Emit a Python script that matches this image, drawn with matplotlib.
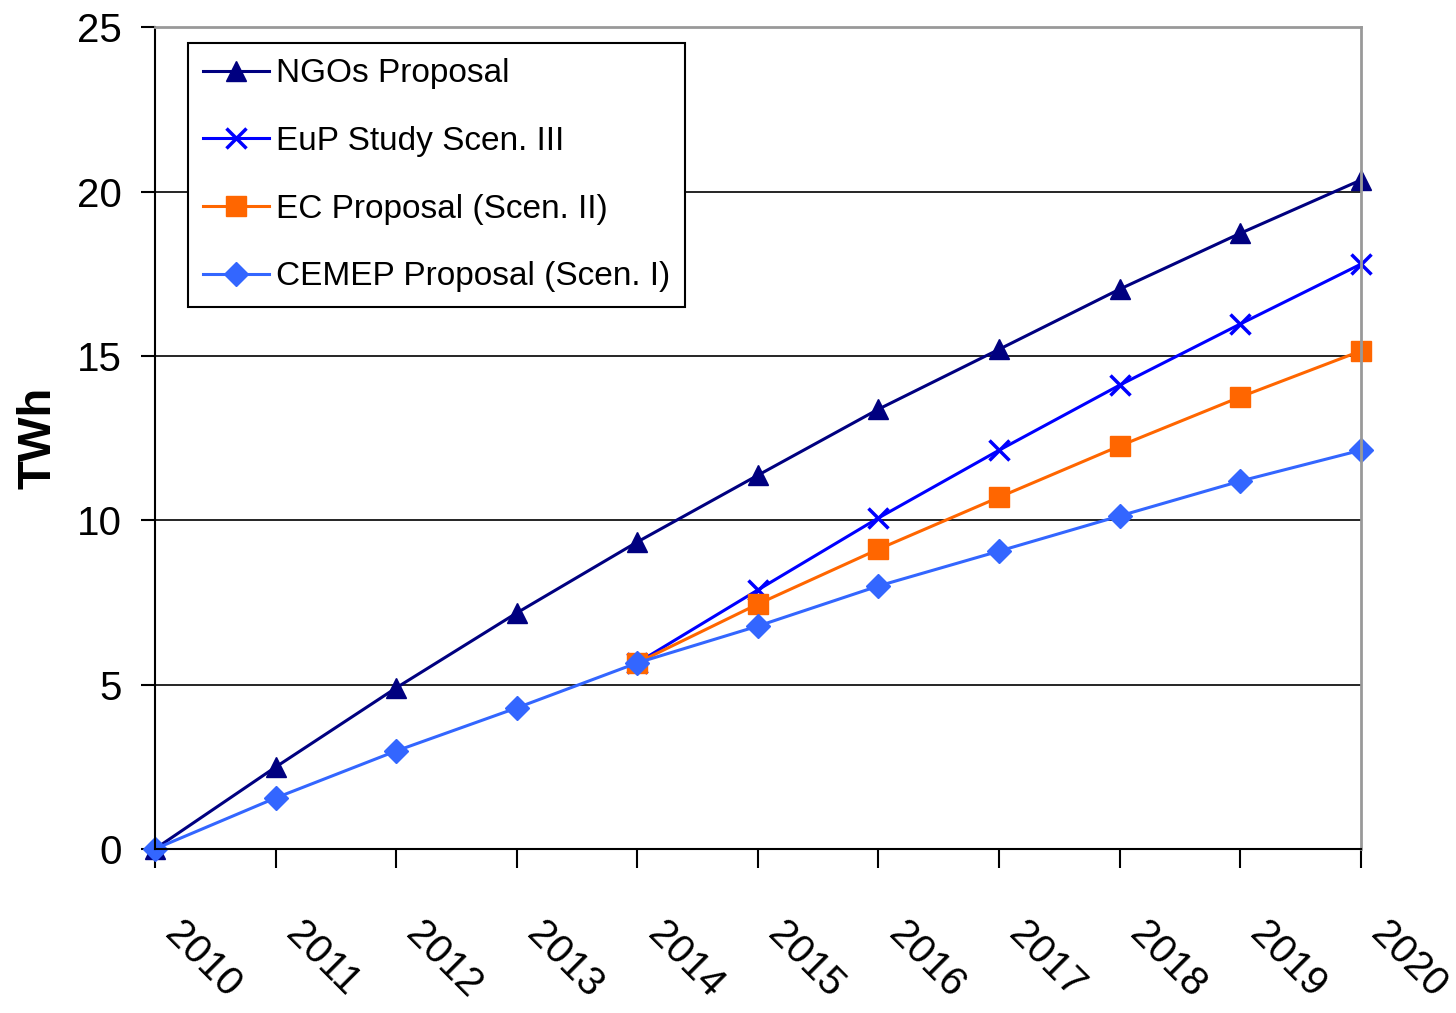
import matplotlib
matplotlib.use("Agg")
import matplotlib.pyplot as plt
import matplotlib.transforms as mtransforms
import numpy as np

nan = np.nan
years = [2010, 2011, 2012, 2013, 2014, 2015, 2016, 2017, 2018, 2019, 2020]
ngos = [0, 2.49, 4.9, 7.18, 9.34, 11.37, 13.38, 15.2, 17.03, 18.73, 20.35]
eup = [nan, nan, nan, nan, 5.66, 7.88, 10.07, 12.13, 14.11, 15.97, 17.79]
ec = [nan, nan, nan, nan, 5.66, 7.45, 9.12, 10.7, 12.26, 13.75, 15.15]
cemep = [0, 1.55, 2.98, 4.29, 5.66, 6.78, 8.0, 9.06, 10.13, 11.19, 12.13]

plt.rcParams['font.family'] = ['Liberation Sans', 'DejaVu Sans']

fig = plt.figure(figsize=(14.56, 10.13), dpi=100)
ax = fig.add_axes([0.1065, 0.162, 0.828, 0.811])

ax.plot(years, ngos, '-^', color='#000080', lw=2.2, ms=14, clip_on=False, label='NGOs Proposal')
ax.plot(years, eup, '-x', color='#0000FF', lw=2.2, ms=14, mew=2.5, clip_on=False, label='EuP Study Scen. III')
ax.plot(years, ec, '-s', color='#FF6600', lw=2.2, ms=14, clip_on=False, label='EC Proposal (Scen. II)')
ax.plot(years, cemep, '-D', color='#3366FF', lw=2.2, ms=12, clip_on=False, label='CEMEP Proposal (Scen. I)')

ax.set_xlim(2010, 2020)
ax.set_ylim(0, 25)
ax.set_yticks([0, 5, 10, 15, 20, 25])
ax.set_xticks(years)
ax.set_xticklabels([str(y) for y in years], rotation=-45, ha='left', va='center',
                   rotation_mode='anchor', fontsize=29)
ax.tick_params(axis='x', length=14, width=1.5, pad=40)
ax.tick_params(axis='y', length=10, width=1.5, labelsize=29, pad=14)
# nudge the year labels a bit to the right, like the original
shift = mtransforms.ScaledTranslation(0.16, -0.04, fig.dpi_scale_trans)
for lab in ax.get_xticklabels():
    lab.set_transform(lab.get_transform() + shift)

ax.grid(axis='y', color='black', lw=1.2)
ax.set_axisbelow(True)
for s in ['top', 'right']:
    ax.spines[s].set_color('#999999')
    ax.spines[s].set_linewidth(2)
for s in ['left', 'bottom']:
    ax.spines[s].set_color('black')
    ax.spines[s].set_linewidth(1.5)

ax.set_ylabel('TWh', fontsize=34, fontweight='bold', labelpad=12)

leg = ax.legend(loc='upper left', bbox_to_anchor=(0.027, 0.9805), borderaxespad=0,
                fontsize=24, frameon=True, fancybox=False, edgecolor='black', framealpha=1,
                handlelength=2.0, handletextpad=0.2, labelspacing=1.1, borderpad=0.45)
leg.get_frame().set_linewidth(1.5)

fig.savefig('out.png', dpi=100)
